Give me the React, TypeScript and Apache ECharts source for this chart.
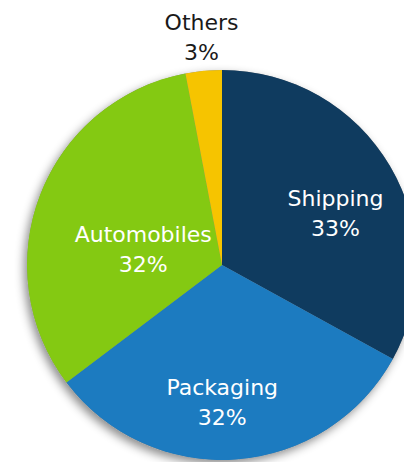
import React, { useEffect, useRef } from "react";
import * as echarts from "echarts";

const categories = ["Shipping", "Packaging", "Automobiles", "Others"];
const values = [33, 31.7, 32.3, 3];
const colors = ["#0f3b5f", "#1c7bc0", "#84c912", "#f6c400"];
const labelColors = ["#ffffff", "#ffffff", "#ffffff", "#1a1a1a"];
const labelOffsets: [number, number][] = [
  [27, 0],
  [-7, 37],
  [15, 21],
  [-11, -127],
];

export default function App() {
  const ref = useRef<HTMLDivElement>(null);
  useEffect(() => {
    document.body.style.margin = "0";
    if (!ref.current) return;
    const chart = echarts.init(ref.current, null, { renderer: "svg" });
    const center = [222, 265];
    const radius = 195;
    chart.setOption({
      animation: false,
      backgroundColor: "#ffffff",
      series: [
        {
          type: "pie",
          silent: true,
          center,
          radius,
          z: 1,
          label: { show: false },
          labelLine: { show: false },
          data: [
            {
              value: 1,
              itemStyle: {
                color: "#888",
                shadowBlur: 10,
                shadowColor: "rgba(0,0,0,0.45)",
                shadowOffsetX: -3,
                shadowOffsetY: 4,
              },
            },
          ],
        },
        {
          type: "pie",
          center,
          radius,
          z: 2,
          startAngle: 90,
          clockwise: true,
          labelLine: { show: false },
          label: {
            show: true,
            position: "inside",
            fontFamily: "DejaVu Sans",
            fontWeight: "normal",
            fontSize: 22,
            lineHeight: 30,
            align: "center",
            formatter: (p: any) => `${p.name}\n${Math.round(p.percent)}%`,
          },
          data: categories.map((name, i) => ({
            name,
            value: values[i],
            itemStyle: { color: colors[i] },
            label: { color: labelColors[i], offset: labelOffsets[i] },
          })),
        },
      ],
    });
    return () => chart.dispose();
  }, []);
  return <div ref={ref} style={{ width: 404, height: 462 }} />;
}
